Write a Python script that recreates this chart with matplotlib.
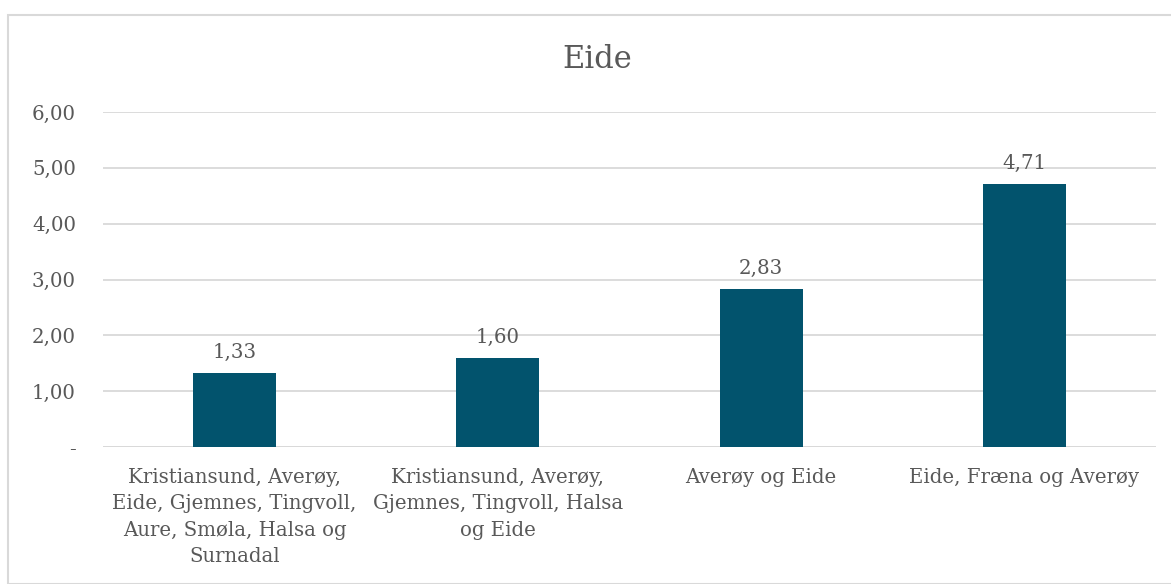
import matplotlib.pyplot as plt
from matplotlib.patches import Rectangle

# Data
categories = [
    "Kristiansund, Averøy,\nEide, Gjemnes, Tingvoll,\nAure, Smøla, Halsa og\nSurnadal",
    "Kristiansund, Averøy,\nGjemnes, Tingvoll, Halsa\nog Eide",
    "Averøy og Eide",
    "Eide, Fræna og Averøy",
]
values = [1.33, 1.60, 2.83, 4.71]
yticks = [0, 1, 2, 3, 4, 5, 6]

plt.rcParams['font.family'] = ['DejaVu Serif']
txt = '#595959'
grid = '#D9D9D9'
bar_col = '#02536D'
fs = 14.2

fig = plt.figure(figsize=(11.71, 5.84), dpi=100)
ax = fig.add_axes([103/1171, 1 - 447/584, (1156-103)/1171, (447-112)/584])

x = range(len(values))
bars = ax.bar(x, values, width=0.315, color=bar_col, zorder=3)

ax.set_xlim(-0.5, len(values) - 0.5)
ax.set_ylim(0, 6)
ax.set_yticks(yticks)
ax.set_yticklabels(['-' if v == 0 else f"{v:.2f}".replace('.', ',') for v in yticks])
ax.yaxis.grid(True, color=grid, linewidth=1.3, zorder=0)
ax.tick_params(axis='y', length=0, pad=19.5, labelsize=fs, labelcolor=txt)
ax.tick_params(axis='x', length=0, pad=15, labelsize=fs, labelcolor=txt)
ax.set_xticks(list(x))
ax.set_xticklabels(categories, linespacing=1.5, va='top')
for s in ax.spines.values():
    s.set_visible(False)
ax.axhline(0, color=grid, linewidth=1.3, zorder=2)

for b, v in zip(bars, values):
    ax.annotate(f"{v:.2f}".replace('.', ','), (b.get_x() + b.get_width() / 2, v),
                xytext=(0, 8), textcoords='offset points', ha='center', va='bottom',
                fontsize=fs, color=txt)

fig.text(0.51, 1 - 60/584, "Eide", ha='center', va='center', fontsize=22, color=txt)

fig.patches.append(Rectangle((8/1171, 0), 1 - 8/1171 + 0.01, 1 - 15/584,
                             transform=fig.transFigure, fill=False,
                             edgecolor=grid, linewidth=1.5))

fig.savefig("out.png", dpi=100)
